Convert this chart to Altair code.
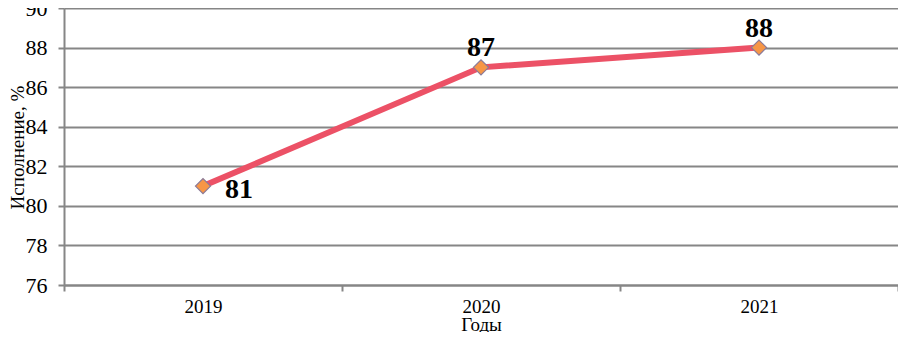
import altair as alt
import pandas as pd

years = ["2019", "2020", "2021"]
values = [81, 87, 88]
y_ticks = [76, 78, 80, 82, 84, 86, 88, 90]

df = pd.DataFrame({"year": years, "value": values})

FONT = "Liberation Serif, Times New Roman, DejaVu Serif, serif"
GRID = "#868686"

x = alt.X("year:N", sort=years,
          scale=alt.Scale(paddingInner=0, paddingOuter=0),
          axis=alt.Axis(title="Годы", labelAngle=0, tickBand="extent",
                        labelFontSize=19, titleFontSize=19,
                        titleY=45, titleBaseline="alphabetic",
                        labelPadding=6, grid=False))
y = alt.Y("value:Q",
          scale=alt.Scale(domain=[76, 90], nice=False, zero=False),
          axis=alt.Axis(title="Исполнение, %", values=y_ticks,
                        labelFontSize=22, titleFontSize=19,
                        titleX=-47, titleY=139,
                        titleAlign="center", titleBaseline="middle",
                        labelPadding=11,
                        grid=True, gridColor=GRID, gridWidth=2))

base = alt.Chart(df).encode(x=x, y=y)

line = base.mark_line(color="#EC5166", strokeWidth=6)
points = base.mark_point(shape="diamond", filled=True, size=230,
                         fill="#F79646", stroke="#8A7A99", strokeWidth=1.2, opacity=1)

lab_first = base.transform_filter(alt.datum.year == "2019").mark_text(
    font=FONT, fontSize=28, fontWeight="bold", align="left", baseline="alphabetic",
    dx=22, dy=12, color="#000").encode(text="value:Q")
lab_rest = base.transform_filter(alt.datum.year != "2019").mark_text(
    font=FONT, fontSize=28, fontWeight="bold", align="center", baseline="alphabetic",
    dy=-11, color="#000").encode(text="value:Q")

chart = alt.layer(line, points, lab_first, lab_rest).properties(
    width=834, height=277,
    autosize=alt.AutoSizeParams(type="none"),
    padding={"left": 56, "top": 0, "right": 0, "bottom": 47},
).configure(font=FONT).configure_view(stroke=None).configure_axis(
    labelFont=FONT, titleFont=FONT,
    labelColor="#000", titleColor="#000", titleFontWeight="normal",
    tickSize=6, tickColor=GRID, tickWidth=2, domainColor=GRID, domainWidth=2,
)

chart.save("out.html", embed_options={"renderer": "svg", "actions": False})
